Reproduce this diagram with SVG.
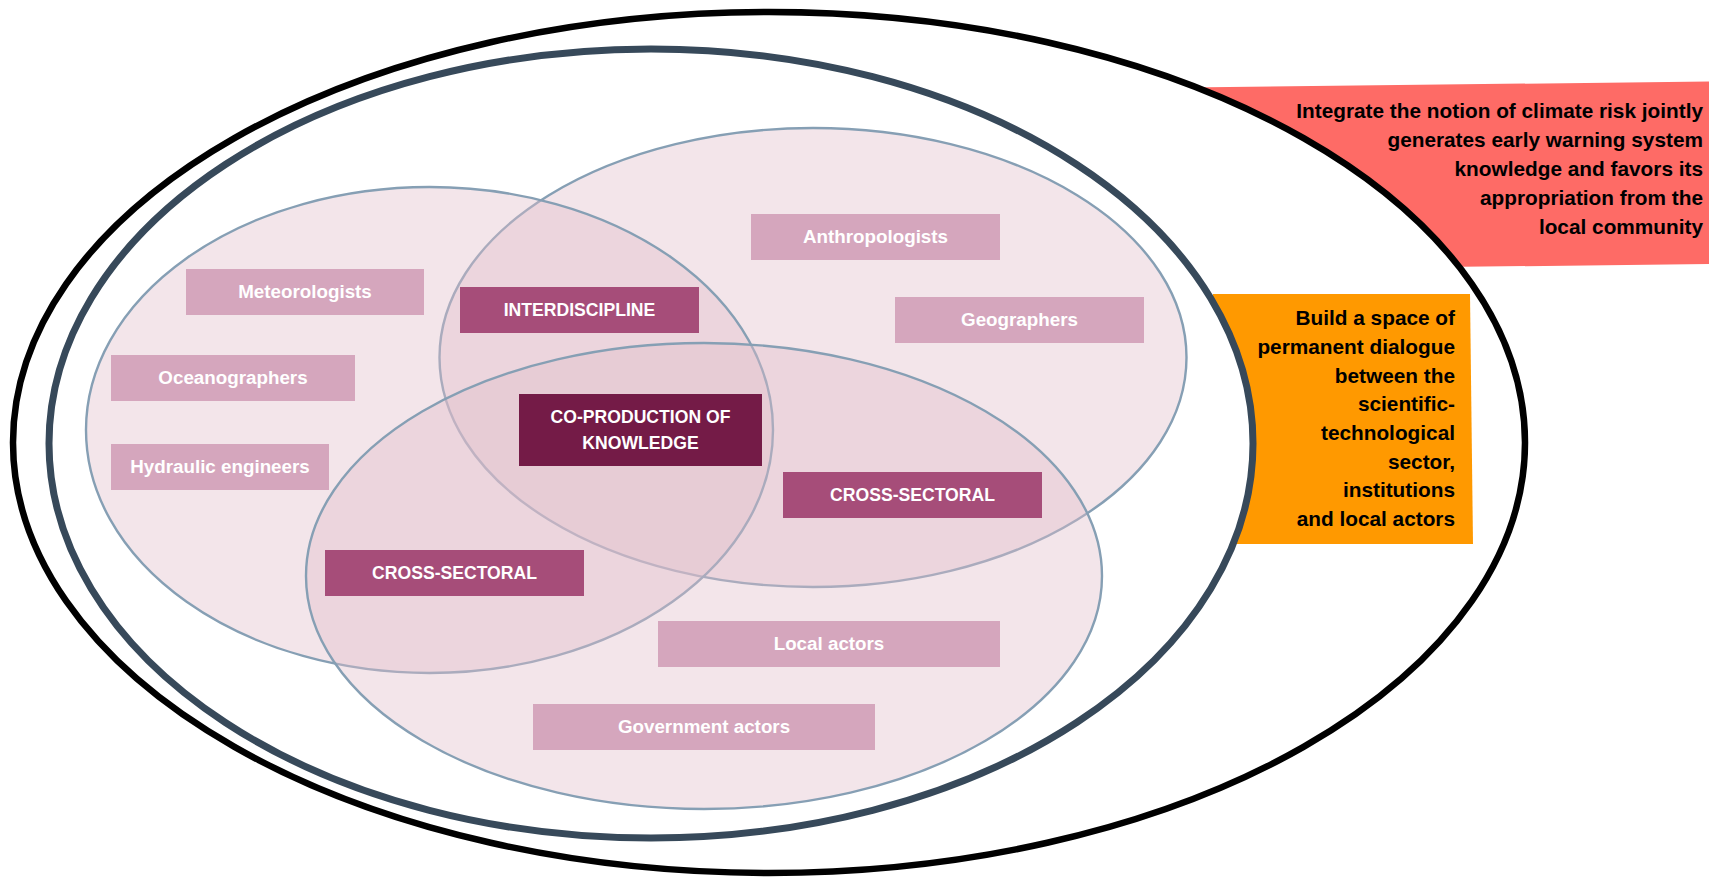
<svg xmlns="http://www.w3.org/2000/svg" width="1709" height="881" viewBox="0 0 1709 881">
  <style>
    .venn { fill: #E0BDCA; fill-opacity: 0.4; stroke: #869FB4; stroke-width: 2.4; }
    .light { fill: #D5A6BD; }
    .mid { fill: #A64D79; }
    .dark { fill: #741B47; }
    .lbl { font-family: "Liberation Sans", Arial, sans-serif; font-weight: bold; font-size: 18.8px; fill: #FFFFFF; text-anchor: middle; }
    .caps { font-size: 17.6px; }
    .note { font-family: "Liberation Sans", Arial, sans-serif; font-weight: bold; font-size: 20.8px; fill: #000000; text-anchor: end; }
  </style>
  <rect x="0" y="0" width="1709" height="881" fill="#FFFFFF"/>

  <g id="goal-integrate-bg">
    <polygon points="1100,88.5 1709,81.5 1709,264 1100,271" fill="#FE6B66"/>
  </g>

  <g id="outer-ellipse">
    <ellipse cx="769" cy="442.5" rx="756" ry="430.5" fill="#FFFFFF" stroke="#000000" stroke-width="6.5"/>
  </g>

  <g id="goal-dialogue-bg">
    <polygon points="1213,294 1470,294 1473,544 1213,544" fill="#FF9900"/>
  </g>

  <g id="inner-ellipse">
    <ellipse cx="651" cy="443.5" rx="602" ry="394.5" fill="#FFFFFF" stroke="#37495A" stroke-width="7"/>
  </g>

  <g id="venn-social-sciences">
    <ellipse class="venn" cx="813" cy="357.5" rx="373.5" ry="229.5"/>
  </g>
  <g id="venn-natural-sciences">
    <ellipse class="venn" cx="429.5" cy="430" rx="343.5" ry="243"/>
  </g>
  <g id="venn-actors">
    <ellipse class="venn" cx="704" cy="576" rx="398" ry="233"/>
  </g>

  <g id="connectors"></g>

  <g id="meteorologists">
    <rect class="light" x="186" y="269" width="238" height="46"/>
    <text class="lbl" x="305" y="298">Meteorologists</text>
  </g>
  <g id="oceanographers">
    <rect class="light" x="111" y="355" width="244" height="46"/>
    <text class="lbl" x="233" y="384">Oceanographers</text>
  </g>
  <g id="hydraulic-engineers">
    <rect class="light" x="111" y="444" width="218" height="46"/>
    <text class="lbl" x="220" y="473">Hydraulic engineers</text>
  </g>
  <g id="interdiscipline">
    <rect class="mid" x="460" y="287" width="239" height="46"/>
    <text class="lbl caps" x="579.5" y="316">INTERDISCIPLINE</text>
  </g>
  <g id="co-production">
    <rect class="dark" x="519" y="394" width="243" height="72"/>
    <text class="lbl caps" x="640.5" y="423">CO-PRODUCTION OF</text>
    <text class="lbl caps" x="640.5" y="449">KNOWLEDGE</text>
  </g>
  <g id="anthropologists">
    <rect class="light" x="751" y="214" width="249" height="46"/>
    <text class="lbl" x="875.5" y="243">Anthropologists</text>
  </g>
  <g id="geographers">
    <rect class="light" x="895" y="297" width="249" height="46"/>
    <text class="lbl" x="1019.5" y="326">Geographers</text>
  </g>
  <g id="cross-sectoral-right">
    <rect class="mid" x="783" y="472" width="259" height="46"/>
    <text class="lbl caps" x="912.5" y="501">CROSS-SECTORAL</text>
  </g>
  <g id="cross-sectoral-left">
    <rect class="mid" x="325" y="550" width="259" height="46"/>
    <text class="lbl caps" x="454.5" y="579">CROSS-SECTORAL</text>
  </g>
  <g id="local-actors">
    <rect class="light" x="658" y="621" width="342" height="46"/>
    <text class="lbl" x="829" y="650">Local actors</text>
  </g>
  <g id="government-actors">
    <rect class="light" x="533" y="704" width="342" height="46"/>
    <text class="lbl" x="704" y="733">Government actors</text>
  </g>

  <g id="goal-integrate-text">
    <text class="note" x="1703" y="118">Integrate the notion of climate risk jointly</text>
    <text class="note" x="1703" y="147">generates early warning system</text>
    <text class="note" x="1703" y="176">knowledge and favors its</text>
    <text class="note" x="1703" y="205">appropriation from the</text>
    <text class="note" x="1703" y="234">local community</text>
  </g>
  <g id="goal-dialogue-text">
    <text class="note" x="1455" y="325">Build a space of</text>
    <text class="note" x="1455" y="354">permanent dialogue</text>
    <text class="note" x="1455" y="382.5">between the</text>
    <text class="note" x="1455" y="411">scientific-</text>
    <text class="note" x="1455" y="440">technological</text>
    <text class="note" x="1455" y="468.5">sector,</text>
    <text class="note" x="1455" y="497">institutions</text>
    <text class="note" x="1455" y="526">and local actors</text>
  </g>
</svg>
